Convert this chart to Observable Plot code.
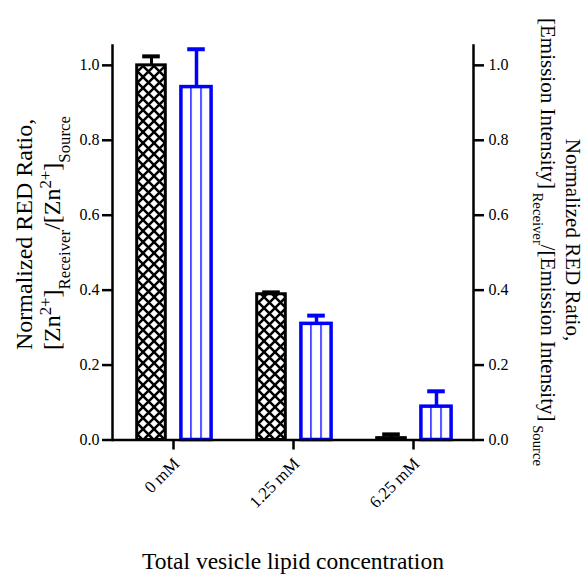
<!DOCTYPE html>
<html><head><meta charset="utf-8">
<script src="https://cdn.jsdelivr.net/npm/d3@7"></script>
<script src="https://cdn.jsdelivr.net/npm/@observablehq/plot@0.6"></script>
<style>body{margin:0;background:#fff} svg{display:block}</style>
</head><body><div id="chart"></div>
<script>
const concentrations = ["0 mM", "1.25 mM", "6.25 mM"];
const znRatio = [1.0, 0.389, 0.005];
const znError = [0.024, 0.005, 0.010];
const emRatio = [0.942, 0.310, 0.089];
const emError = [0.101, 0.022, 0.041];
const yTicks = [0, 0.2, 0.4, 0.6, 0.8, 1.0];
const xTitle = "Total vesicle lipid concentration";

const zn = concentrations.map((c, i) => ({c, v: znRatio[i], e: znRatio[i] + znError[i]}));
const em = concentrations.map((c, i) => ({c, v: emRatio[i], e: emRatio[i] + emError[i]}));

const serif = "Liberation Serif";
const BLUE = "#0000ff";
const fmt = d3.format(".1f");

const svg = Plot.plot({
  width: 584, height: 576,
  marginLeft: 112, marginRight: 111, marginTop: 45, marginBottom: 136.5,
  style: {fontFamily: serif, fontSize: "16px", color: "#000", background: "#fff"},
  x: {domain: concentrations, padding: 0, label: null},
  y: {domain: [0, 1.053], label: null},
  marks: [
    Plot.barY(zn, {x: "c", y: "v", fill: "url(#crosshatch)", stroke: "#000", strokeWidth: 3, insetLeft: 23.7, insetRight: 67.7}),
    Plot.barY(em, {x: "c", y: "v", fill: "url(#vlines)", stroke: BLUE, strokeWidth: 3.5, insetLeft: 67.9, insetRight: 21.9}),
    Plot.ruleX(zn, {x: "c", y1: "v", y2: "e", dx: -22, stroke: "#000", strokeWidth: 3}),
    Plot.tickY(zn, {x: "c", y: "e", insetLeft: 29.2, insetRight: 73.2, stroke: "#000", strokeWidth: 4}),
    Plot.ruleX(em, {x: "c", y1: "v", y2: "e", dx: 23, stroke: BLUE, strokeWidth: 3.5}),
    Plot.tickY(em, {x: "c", y: "e", insetLeft: 74.2, insetRight: 28.2, stroke: BLUE, strokeWidth: 4}),
    Plot.frame({anchor: "left", strokeWidth: 2.5}),
    Plot.frame({anchor: "right", strokeWidth: 2.5}),
    Plot.ruleY([0], {strokeWidth: 2.5}),
    Plot.axisY({anchor: "left", ticks: yTicks, tickFormat: fmt, tickSize: 10, tickPadding: 3, strokeWidth: 2.5, fontSize: 16, fontFamily: serif, label: null}),
    Plot.axisY({anchor: "right", ticks: yTicks, tickFormat: fmt, tickSize: 10, tickPadding: 5, strokeWidth: 2.5, fontSize: 16, fontFamily: serif, label: null}),
    Plot.axisX({tickSize: 10, strokeWidth: 2.5, tickFormat: () => "", label: null}),
    Plot.axisX({tickSize: 0, tickRotate: -45, tickPadding: 21, dx: 3, fontSize: 17, fontFamily: serif, label: null}),
    Plot.text([xTitle], {text: d => d, frameAnchor: "bottom", dy: 129, fontSize: 23.5, fontFamily: serif})
  ]
});

const root = d3.select(svg);
const defs = root.insert("defs", ":first-child");
const ch = defs.append("pattern").attr("id", "crosshatch").attr("patternUnits", "userSpaceOnUse")
  .attr("width", 11).attr("height", 11);
ch.append("rect").attr("width", 11).attr("height", 11).attr("fill", "#fff");
ch.append("path").attr("d", "M-1,-1L12,12M12,-1L-1,12").attr("stroke", "#000").attr("stroke-width", 2.5);
const vl = defs.append("pattern").attr("id", "vlines").attr("patternUnits", "objectBoundingBox")
  .attr("patternContentUnits", "objectBoundingBox").attr("x", -0.0225).attr("width", 1/3).attr("height", 1);
vl.append("rect").attr("width", 1/3).attr("height", 1).attr("fill", "#fff");
vl.append("rect").attr("width", 0.045).attr("height", 1).attr("fill", BLUE);

function addText(x, y, rot, anchor, size, parts) {
  const t = root.append("text").attr("transform", `translate(${x},${y}) rotate(${rot})`)
    .attr("text-anchor", anchor).attr("font-size", size).attr("font-family", serif).attr("fill", "#000");
  for (const [s, kind] of parts) {
    const ts = t.append("tspan").text(s);
    if (kind === "sup") ts.attr("baseline-shift", "super").attr("font-size", "70%");
    if (kind === "sub") ts.attr("baseline-shift", "sub").attr("font-size", "70%");
  }
}
addText(32, 350, -90, "start", 24, [["Normalized RED Ratio,"]]);
addText(60, 350, -90, "start", 24, [["[Zn"], ["2+", "sup"], ["]"], ["Receiver", "sub"], ["/[Zn"], ["2+", "sup"], ["]"], ["Source", "sub"]]);
addText(566, 240, 90, "middle", 21, [["Normalized RED Ratio,"]]);
addText(541, 242, 90, "middle", 21, [["[Emission Intensity]"], [" Receiver", "sub"], ["/[Emission Intensity]"], [" Source", "sub"]]);

document.getElementById("chart").appendChild(svg);
</script>
</body></html>
